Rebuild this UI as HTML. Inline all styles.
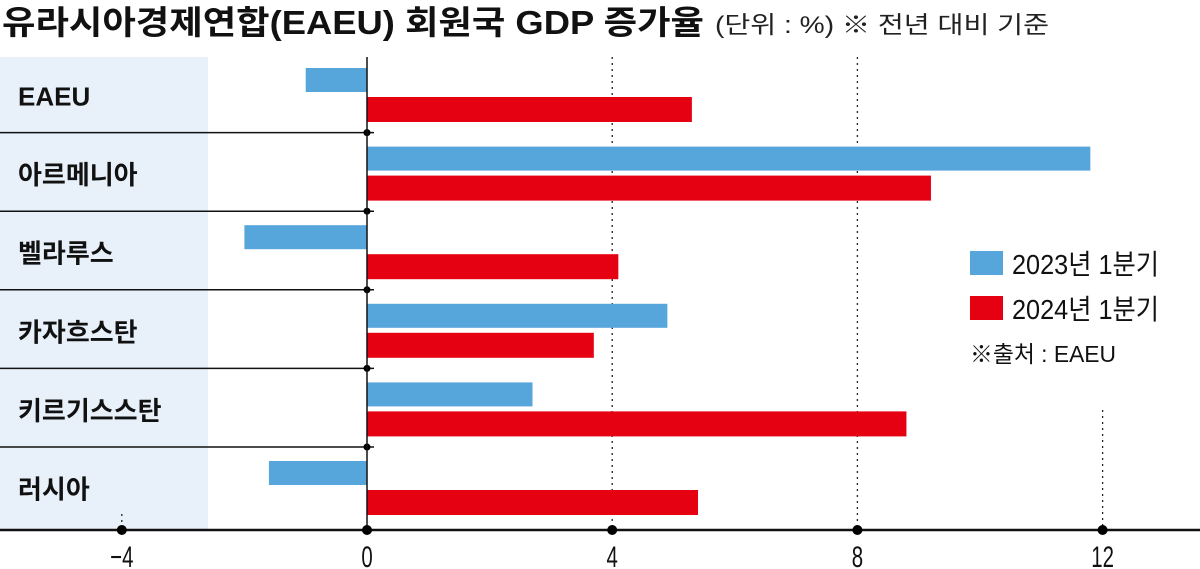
<!DOCTYPE html>
<html><head><meta charset="utf-8"><style>
html,body{margin:0;padding:0;background:#fff;}
svg{display:block;font-family:"Liberation Sans","Noto Sans CJK KR",sans-serif;}
</style></head><body>
<svg id="chart" width="1200" height="569" viewBox="0 0 1200 569" xmlns="http://www.w3.org/2000/svg">
<text x="2" y="34" font-size="33" font-weight="bold" fill="#111" textLength="702" lengthAdjust="spacingAndGlyphs">유라시아경제연합(EAEU) 회원국 GDP 증가율</text>
<text x="715" y="33" font-size="24" fill="#222" textLength="334" lengthAdjust="spacingAndGlyphs">(단위 : %) ※ 전년 대비 기준</text>
<rect x="0" y="57" width="208" height="473" fill="#e8f1f9"/>
<g id="grid"></g>
<g id="bars"></g>
<g id="labels"></g>
<g id="axis"></g>
<rect x="970" y="251" width="33" height="24" fill="#56a5db"/>
<text x="1012" y="274" font-size="28" fill="#111" textLength="147" lengthAdjust="spacingAndGlyphs">2023년 1분기</text>
<rect x="970" y="296" width="33" height="24" fill="#e50012"/>
<text x="1012" y="319" font-size="28" fill="#111" textLength="147" lengthAdjust="spacingAndGlyphs">2024년 1분기</text>
<text x="970" y="362" font-size="23" fill="#111" textLength="146" lengthAdjust="spacingAndGlyphs">※출처 : EAEU</text>
</svg>
<script>
const categories = ["EAEU","아르메니아","벨라루스","카자흐스탄","키르기스스탄","러시아"];
const values2023 = [-1.0, 11.8, -2.0, 4.9, 2.7, -1.6];
const values2024 = [5.3, 9.2, 4.1, 3.7, 8.8, 5.4];
const tickValues = [-4, 0, 4, 8, 12];
const tickLabels = ["−4","0","4","8","12"];

const NS = "http://www.w3.org/2000/svg";
const x0 = 367, unit = 61.3;
function xScale(v){ return x0 + v*unit; }
const rowTop0 = 54.5, rowH = 78.6, axisY = 530;
function rowTop(i){ return rowTop0 + i*rowH; }
function mk(tag, attrs, parent){
  const e = document.createElementNS(NS, tag);
  for (const k in attrs) e.setAttribute(k, attrs[k]);
  document.getElementById(parent).appendChild(e);
  return e;
}
tickValues.forEach((t,i)=>{
  if (t === 0) return;
  let y1 = 57;
  if (t === 12) y1 = 410;
  if (t < 0) y1 = 514;
  const l = mk("line",{x1:xScale(t),x2:xScale(t),y1:y1,y2:axisY,stroke:"#222","stroke-width":1.3,"stroke-dasharray":"2 4"},"grid");
  
  
});
categories.forEach((c,i)=>{
  const v1 = values2023[i], v2 = values2024[i];
  const b1 = mk("rect",{x:Math.min(xScale(0),xScale(v1)),y:rowTop(i)+13.5,width:Math.abs(xScale(v1)-xScale(0)),height:24,fill:"#56a5db"},"bars");
  
  
  const b2 = mk("rect",{x:Math.min(xScale(0),xScale(v2)),y:rowTop(i)+42.5,width:Math.abs(xScale(v2)-xScale(0)),height:25,fill:"#e50012"},"bars");
  
  
  const t = mk("text",{x:18,y:rowTop(i)+51,"font-size":26,"font-weight":"bold",fill:"#111"},"labels");
  t.textContent = c;
  
  
  if (i < categories.length-1){
    const sy = rowTop(i+1)-0.5;
    const s = mk("line",{x1:0,x2:374,y1:sy,y2:sy,stroke:"#111","stroke-width":1.5},"labels");
    
    
    const d = mk("circle",{cx:x0,cy:sy,r:3.5,fill:"#000"},"labels");
    
    
  }
});
const z = mk("line",{x1:x0,x2:x0,y1:57,y2:axisY,stroke:"#111","stroke-width":1.5},"axis");


const ax = mk("line",{x1:0,x2:1200,y1:axisY,y2:axisY,stroke:"#111","stroke-width":2.5},"axis");


tickValues.forEach((t,i)=>{
  const d = mk("circle",{cx:xScale(t),cy:axisY,r:5,fill:"#000"},"axis");
  
  
  const tx = mk("text",{x:xScale(t),y:567,"font-size":30,"text-anchor":"middle",fill:"#111",transform:"translate("+xScale(t)+",0) scale(0.68,1) translate("+(-xScale(t))+",0)"},"axis");
  tx.textContent = tickLabels[i];
  
  
});
</script>
</body></html>
